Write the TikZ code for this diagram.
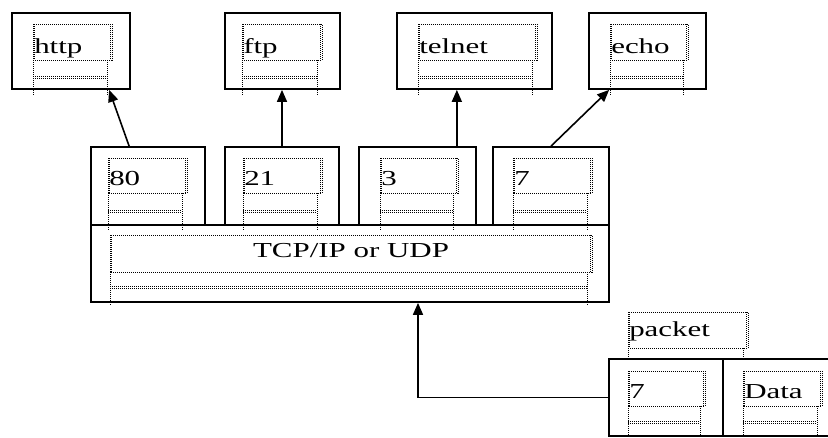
\documentclass[tikz,border=0pt]{standalone}
\usepackage{fontspec}
\setmainfont[FakeStretch=1.45]{Liberation Serif}
\usetikzlibrary{arrows.meta,calc}
\newcommand\mybox[5]{\node[box,minimum width={(#4-#2)*0.75pt},minimum height={(#5-#3)*0.75pt}] (#1) at ({(#2+#4)/2},{(#3+#5)/2}) {};}
\newcommand\tbframe[6]{%
 \draw[dotf] (#1,#2) rectangle (#3,#4);
 \draw[dotf] ({#1+1.5},#2) -- ({#1+1.5},#4);
 \draw[dotf] ({#3-1.5},#2) -- ({#3-1.5},#4);
 \draw[dotf] (#1,#5) -- ({#3-5},#5);
 \draw[dotf] (#1,{#5-1.5}) -- ({#3-5},{#5-1.5});
 \draw[dotf] (#1,#4) -- (#1,#6);
 \draw[dotf] ({#3-5},#4) -- ({#3-5},#6);}
\begin{document}
\begin{tikzpicture}[x=0.75pt,y=-0.75pt,
  box/.style={draw,line width=1.3pt,inner sep=0pt,rectangle},
  dotf/.style={draw=black,line width=0.7pt,dash pattern=on 0.75pt off 0.75pt},
  lbl/.style={font=\fontsize{16pt}{18pt}\selectfont,inner sep=0pt},
  arr/.style={line width=1.2pt,-{Triangle[length=9pt,width=7.5pt]}}]
\clip (0,0) rectangle (828,437);
\fill[white] (0,0) rectangle (828,437);
% top boxes
\mybox{http}{12}{13}{130}{89}
\mybox{ftp}{225}{13}{340}{89}
\mybox{telnet}{397}{13}{552}{89}
\mybox{echo}{589}{13}{706}{89}
% port boxes
\mybox{p80}{91}{147}{205}{225}
\mybox{p21}{225}{147}{339}{225}
\mybox{p3}{359}{147}{476}{225}
\mybox{p7}{493}{147}{609}{225}
\mybox{tcp}{91}{225}{609}{302}
% packet boxes
\mybox{pk7}{609}{359}{723}{436}
\mybox{data}{723}{359}{840}{436}
% text-box frames
\tbframe{33}{24}{112}{60}{78}{95}
\tbframe{242}{24}{322}{60}{78}{95}
\tbframe{418}{24}{537}{60}{78}{95}
\tbframe{610}{24}{688}{60}{78}{95}
\tbframe{108}{158}{187}{193}{212}{230}
\tbframe{243}{158}{322}{193}{212}{230}
\tbframe{380}{158}{458}{193}{212}{230}
\tbframe{513}{158}{592}{193}{212}{230}
\tbframe{110}{235}{592}{272}{288}{305}
\tbframe{628}{371}{705}{406}{423}{440}
\tbframe{743}{371}{822}{406}{423}{440}
\draw[dotf] (628,312) rectangle (748,348);
\draw[dotf] (629.5,312) -- (629.5,348);
\draw[dotf] (746.5,312) -- (746.5,348);
\draw[dotf] (628,348) -- (628,360);
\draw[dotf] (743,348) -- (743,360);
% labels
\node[lbl,anchor=base west] (thttp) at (34,53) {http};
\node[lbl,anchor=base west] (tftp) at (243,53) {ftp};
\node[lbl,anchor=base west] (ttelnet) at (419,53) {telnet};
\node[lbl,anchor=base west] (techo) at (611,53) {echo};
\node[lbl,anchor=base west] (t80) at (109,185) {80};
\node[lbl,anchor=base west] (t21) at (244,185) {21};
\node[lbl,anchor=base west] (t3) at (381,185) {3};
\node[lbl,anchor=base west] (t7) at (514,185) {7};
\node[lbl,anchor=base] (ttcp) at (351,257) {TCP/IP or UDP};
\node[lbl,anchor=base west] (tpacket) at (629,336) {packet};
\node[lbl,anchor=base west] (tpk7) at (629,398) {7};
\node[lbl,anchor=base west] (tdata) at (744,398) {Data};
% connectors
\coordinate (a80) at ($(p80.north west)+(39,0)$);
\coordinate (ahttp) at ($(http.south west)+(98,0)$);
\draw[arr] (a80) -- (ahttp);
\draw[arr] (p21.north) -- (p21.north |- ftp.south);
\coordinate (a3) at ($(p3.north east)+(-20,0)$);
\draw[arr] (a3) -- (a3 |- telnet.south);
\coordinate (aecho) at ($(echo.south west)+(21,0)$);
\draw[arr] (p7.north) -- (aecho);
\coordinate (tin) at ($(tcp.south)+(68,0)$);
\draw[arr] (pk7.west) -| (tin);
\end{tikzpicture}
\end{document}
